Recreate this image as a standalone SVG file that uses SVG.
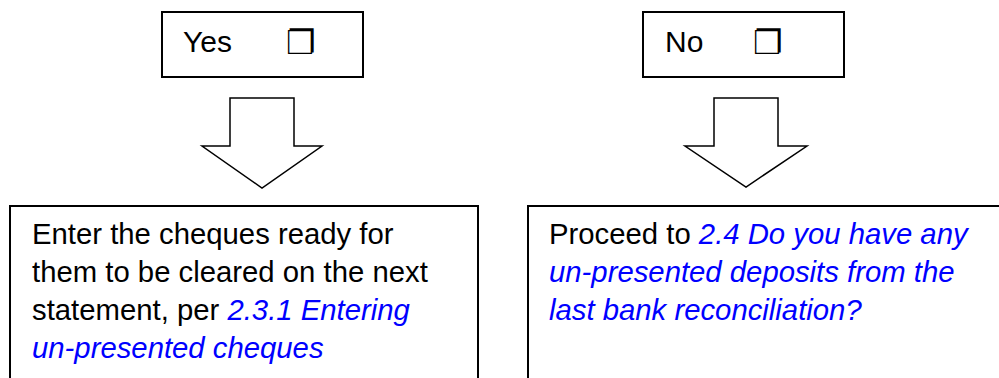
<svg xmlns="http://www.w3.org/2000/svg" width="999" height="378" viewBox="0 0 999 378">
<style>
.box{fill:#fff;stroke:#000;stroke-width:2}
.arrow{fill:#fff;stroke:#000;stroke-width:1.5;stroke-linejoin:miter}
.t{font-family:"Liberation Sans",Arial,sans-serif;font-size:29.3px;fill:#000}
.lbl{font-family:"Liberation Sans",Arial,sans-serif;font-size:30px;fill:#000}
.cb{font-family:"DejaVu Sans",sans-serif;font-size:33px;fill:#000}
.link{fill:#0000FF;font-style:italic}
</style>
<rect width="999" height="378" fill="#fff"/>
<g id="yes">
<rect class="box" x="162" y="12" width="201" height="65"/>
<text class="lbl" x="183" y="52">Yes</text>
<text class="cb" x="286" y="54">❐</text>
</g>
<g id="no">
<rect class="box" x="643" y="12" width="201" height="65"/>
<text class="lbl" x="665" y="52">No</text>
<text class="cb" x="753" y="54">❐</text>
</g>
<g id="connectors">
<polygon class="arrow" points="230,98 294,98 294,146 322,146 262,188 202,146 230,146"/>
<polygon class="arrow" points="714,98 778,98 778,146 807,146 746,187 685,146 714,146"/>
</g>
<g id="enter">
<rect class="box" x="10" y="206" width="468" height="190"/>
<text class="t" x="32" y="244">Enter the cheques ready for</text>
<text class="t" x="32" y="282">them to be cleared on the next</text>
<text class="t" x="32" y="320">statement, per <tspan class="link">2.3.1 Entering</tspan></text>
<text class="t" x="32" y="358"><tspan class="link">un-presented cheques</tspan></text>
</g>
<g id="proceed">
<rect class="box" x="528" y="206" width="490" height="190"/>
<text class="t" x="549" y="244">Proceed to <tspan class="link">2.4 Do you have any</tspan></text>
<text class="t" x="549" y="282"><tspan class="link">un-presented deposits from the</tspan></text>
<text class="t" x="549" y="320"><tspan class="link">last bank reconciliation?</tspan></text>
</g>
</svg>
